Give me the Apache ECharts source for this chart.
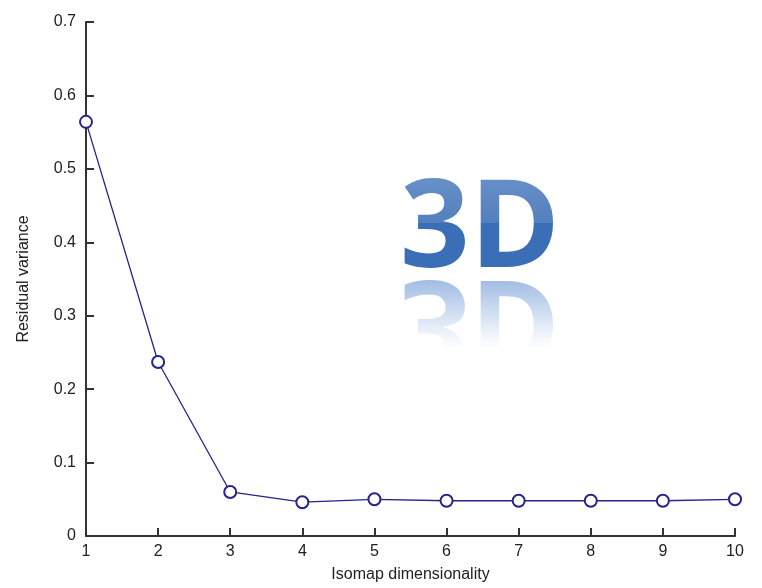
<!DOCTYPE html>
<html lang="en">
<head>
    <meta charset="UTF-8">
    <title>Residual variance</title>
    <script src="https://cdn.jsdelivr.net/npm/echarts@6/dist/echarts.min.js"></script>
    <style>
        html, body { margin: 0; padding: 0; background: #fff; }
    </style>
</head>
<body>
<div id="main" style="width: 762px;height: 588px;"></div>
<script>
    // dimensionality on the x axis, residual variance on the y axis
    var dims = [1, 2, 3, 4, 5, 6, 7, 8, 9, 10];
    var residual = [0.564, 0.237, 0.060, 0.046, 0.050, 0.048, 0.048, 0.048, 0.048, 0.050];
    var yTicks = [0, 0.1, 0.2, 0.3, 0.4, 0.5, 0.6, 0.7];

    var points = [];
    for (var i = 0; i < dims.length; i++) {
        points.push([dims[i], residual[i]]);
    }

    var myChart = echarts.init(document.getElementById('main'));

    var axisFont = { fontFamily: 'Liberation Sans', fontSize: 16, color: '#222' };
    var logoFont = 'bold 122px "Open Sans"';

    var option = {
        animation: false,
        grid: { left: 86, right: 27, top: 22, bottom: 52 },
        xAxis: {
            type: 'value',
            min: 1,
            max: 10,
            interval: 1,
            name: 'Isomap dimensionality',
            nameLocation: 'middle',
            nameGap: 31,
            nameTextStyle: { fontFamily: 'Liberation Sans', fontSize: 16, color: '#222' },
            axisLine: { lineStyle: { color: '#333', width: 2 } },
            axisTick: { inside: true, length: 8, lineStyle: { color: '#333', width: 2 } },
            axisLabel: Object.assign({ margin: 8 }, axisFont),
            splitLine: { show: false }
        },
        yAxis: {
            type: 'value',
            min: yTicks[0],
            max: yTicks[yTicks.length - 1],
            interval: 0.1,
            name: 'Residual variance',
            nameLocation: 'middle',
            nameGap: 54,
            nameRotate: 90,
            nameTextStyle: { fontFamily: 'Liberation Sans', fontSize: 16, color: '#222' },
            axisLine: { show: true, lineStyle: { color: '#333', width: 2 } },
            axisTick: { show: true, inside: true, length: 8, lineStyle: { color: '#333', width: 2 } },
            axisLabel: Object.assign({
                margin: 10,
                formatter: function (v) { return v === 0 ? '0' : v.toFixed(1); }
            }, axisFont),
            splitLine: { show: false }
        },
        graphic: [
            // "3D" logo
            {
                type: 'text',
                x: 400,
                y: 232,
                z: 10,
                style: {
                    text: '3D',
                    font: logoFont,
                    verticalAlign: 'middle',
                    fill: '#3a6eb6'
                }
            },
            // glossy highlight on upper half
            {
                type: 'rect',
                z: 11,
                shape: { x: 392, y: 168, width: 180, height: 55 },
                style: {
                    fill: new echarts.graphic.LinearGradient(0, 0, 0, 1, [
                        { offset: 0, color: 'rgba(255,255,255,0.26)' },
                        { offset: 1, color: 'rgba(255,255,255,0.12)' }
                    ])
                }
            },
            // reflection
            {
                type: 'text',
                x: 400,
                y: 316,
                z: 10,
                scaleY: -1,
                style: {
                    text: '3D',
                    font: logoFont,
                    verticalAlign: 'middle',
                    fill: '#7ea4d9'
                }
            },
            {
                type: 'rect',
                z: 11,
                shape: { x: 392, y: 274, width: 180, height: 115 },
                style: {
                    fill: new echarts.graphic.LinearGradient(0, 0, 0, 1, [
                        { offset: 0, color: 'rgba(255,255,255,0.2)' },
                        { offset: 0.5, color: 'rgba(255,255,255,0.85)' },
                        { offset: 0.65, color: 'rgba(255,255,255,1)' },
                        { offset: 1, color: 'rgba(255,255,255,1)' }
                    ])
                }
            }
        ],
        series: [
            {
                type: 'line',
                data: points,
                symbol: 'emptyCircle',
                symbolSize: 12,
                z: 5,
                lineStyle: { color: '#24248a', width: 1.3 },
                itemStyle: { color: '#24248a', borderColor: '#24248a', borderWidth: 1.3 }
            }
        ]
    };

    myChart.setOption(option);
</script>
</body>
</html>
